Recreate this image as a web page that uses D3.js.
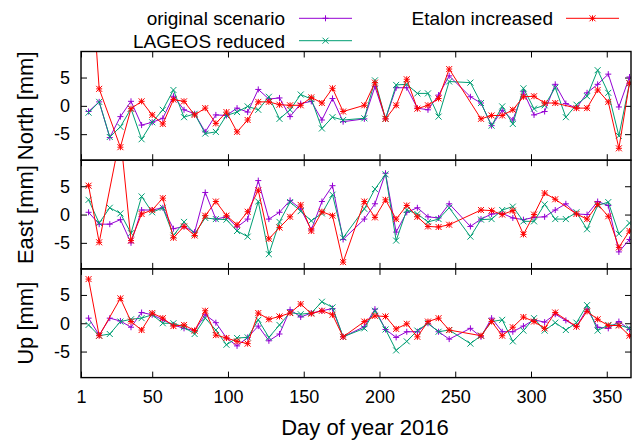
<!DOCTYPE html>
<html>
<head>
<meta charset="utf-8">
<script src="https://cdn.jsdelivr.net/npm/d3@7"></script>
<style>
body { margin: 0; background: #fff; }
text { font-family: "Liberation Sans", Arial, sans-serif; fill: #000; }
</style>
</head>
<body>
<svg id="chart" width="633" height="440"></svg>
<script>
// weekly solutions, day of year 2016
let days = [8, 15, 22, 29, 36, 43, 50, 57, 64, 71, 78, 85, 92, 99, 106, 113, 120, 127, 134, 141,
    148, 155, 162, 169, 176, 183, 190, 197, 204, 211, 218, 225, 232, 239, 246, 253, 260, 267, 274, 281,
    288, 295, 302, 309, 316, 323, 330, 337, 344, 351, 358, 365];

let seriesNames = ["original scenario", "LAGEOS reduced", "Etalon increased"];
let seriesColours = ["#9400d3", "#009e73", "#ff0000"];
let seriesMarkers = ["plus", "cross", "star"];

let panelTitles = ["North [mm]", "East [mm]", "Up [mm]"];
let xTicks = [3, 50, 100, 150, 200, 250, 300, 350];
let xTickLabels = ["1", "50", "100", "150", "200", "250", "300", "350"];
let yTicks = [-5, 0, 5];

// null = no solution that week
let northOrig = [-1.0, 0.7, -5.6, -1.9, 0.8, -3.4, -2.9, -2.2, 1.7, -0.7, -1.4, -4.6, -1.6, -1.7, -0.4, -1.1, 2.9, 1.2, 1.4, -1.9,
    0.4, 0.8, -2.5, 1.3, -2.8, null, -2.3, 3.4, -2.3, 3.2, 3.2, -0.4, -0.7, 1.9, 5.3, null, 1.6, 0.5, -3.5, -0.8,
    -2.5, 2.5, -1.6, -1.0, 3.8, 0.4, -0.4, 2.3, 3.8, 5.6, -0.2, 5.1];
let northLageos = [-1.2, 0.7, -5.5, -3.7, -0.5, -5.9, -2.9, -0.7, 2.8, -2.0, -1.4, -4.9, -4.6, -1.7, -1.1, -0.1, -0.7, 1.6, -2.3, -0.7,
    2.0, 1.2, -4.0, -2.0, -2.5, null, -2.2, 4.5, -2.3, 3.7, 3.8, 2.2, 2.2, -1.9, 4.3, null, 4.1, 0.5, -3.5, -0.1,
    -3.2, 3.1, -0.5, 0.1, 3.2, -2.0, 0.2, 1.7, 6.3, 2.3, -5.3, 4.0];
let northEtalon = [30, 3.0, null, -7.3, -0.5, 0.8, -1.6, -3.2, 1.1, 0.8, -1.6, -0.4, -3.1, -1.1, -4.6, -2.5, 0.7, 0.7, 0.2, 0.1,
    0.1, 1.5, 0.5, 3.1, -1.0, null, 0.1, 4.1, -2.3, 0.1, 4.7, -0.5, 0.1, 1.3, 6.5, null, null, -2.3, -1.7, -1.7,
    -0.7, 1.6, 1.7, 0.5, 0.5, null, -0.4, -0.4, 2.8, 0.7, -7.5, 4.0];

let eastOrig = [0.4, -1.7, -1.7, -0.9, -5.0, 0.8, 0.8, 1.2, -2.5, -2.1, -3.1, 3.9, -0.8, -0.4, -2.2, -0.8, 6.0, -0.8, 0.4, 2.5,
    1.0, -2.7, 2.3, 5.1, -4.4, null, -0.8, 1.9, 7.3, -3.1, 0.4, 1.2, -0.4, -0.6, 1.9, null, -2.1, -0.8, 0.1, 0.2,
    -0.6, -0.9, -0.5, -0.4, 0.8, 1.9, 0.1, 0.0, 2.3, 1.6, -6.6, -4.4];
let eastLageos = [2.6, -1.5, 1.2, 0.2, -3.3, 3.2, 0.4, 1.2, -3.7, -1.3, -3.4, -0.6, -0.8, -0.9, -2.9, -3.9, 2.3, -7.0, -1.3, 2.2,
    0.6, -1.1, 0.2, 3.5, -4.1, null, 1.0, 4.5, 7.1, -4.6, 0.8, 0.1, -1.3, -0.8, 1.2, null, -3.9, -0.9, -0.8, 0.8,
    1.4, -1.2, -1.2, 1.8, -0.8, -0.8, 0.4, -2.6, 1.6, 2.2, -3.4, -1.5];
let eastEtalon = [5.1, -4.9, null, 14, -4.6, 0.1, 0.8, 2.9, -4.1, -2.1, -3.7, -0.2, 2.3, -0.2, -1.8, 0.5, 4.3, -4.3, -2.3, -0.4,
    1.7, -2.9, 0.5, -0.2, -8.4, null, 2.3, -0.5, 2.6, -0.8, 1.6, -0.4, -2.1, -2.2, -1.8, null, null, 0.8, 0.7, 0.0,
    0.7, -3.5, 0.0, 3.8, 2.7, null, 0.1, -0.8, 1.8, -0.3, -5.8, -2.9];

let upOrig = [0.9, -2.1, 0.9, 0.4, -0.7, 1.9, 1.5, 0.6, -0.3, -0.9, -1.3, 1.5, 0.1, -2.6, -4.0, -2.5, -0.5, -3.1, -1.9, 2.4,
    1.1, 1.8, 2.2, 2.6, -2.4, null, -0.6, 2.5, -1.1, -2.5, -1.5, -1.5, 0.0, -1.5, -2.8, null, -0.9, -2.4, 0.9, -1.5,
    -1.5, -0.5, 0.6, 0.2, 1.6, 0.5, -0.6, 2.5, -0.7, -0.9, 0.3, -1.1];
let upLageos = [-0.3, -2.2, -1.9, 0.3, 0.7, 0.9, 1.5, 0.0, 0.0, -0.7, -1.9, 0.9, -1.2, -3.8, -2.6, -2.5, 0.6, -2.5, -0.3, 1.9,
    1.6, 1.8, 3.8, 2.8, -2.4, null, -0.9, 2.2, -1.1, -4.8, -3.2, -1.3, 0.0, -1.5, -1.2, null, -3.6, -2.2, 0.3, 0.6,
    -3.2, -1.3, 0.9, -1.3, 0.1, -1.2, 0.1, 3.2, -1.3, -0.3, -0.3, -0.9];
let upEtalon = [7.8, -2.2, null, 4.4, 0.3, -1.2, 1.8, 0.9, -0.5, -0.3, -1.3, 2.2, -2.1, -2.6, -3.2, -3.6, 1.8, 0.7, 1.2, 1.8,
    3.4, 1.7, 2.2, 1.5, -2.4, null, 0.3, 1.3, 1.2, -1.0, -0.1, -2.4, 0.3, 0.9, -1.2, null, null, -2.2, 0.3, -2.2,
    -0.7, 1.1, 0.3, -0.9, 1.9, null, -0.6, 2.1, 0.7, -0.4, -0.4, -2.2];

let panelData = [
    [northOrig, northLageos, northEtalon],
    [eastOrig, eastLageos, eastEtalon],
    [upOrig, upLageos, upEtalon]
];

let plotLeft = 81;
let plotRight = 631;
let panelTop = 51.5;
let panelHeight = 108.7;
let tickLen = 6;
let markSize = 3; // half width of the point symbols

let svg = d3.select("#chart");

let x = d3.scaleLinear().domain([3, 366]).range([plotLeft, plotRight]);

/**
 * Draw a gnuplot style point symbol
 */
function drawMarker(g, type, cx, cy, colour) {
    let s = markSize;
    let segs = [];
    if (type === "plus" || type === "star") {
        segs.push([cx - s, cy, cx + s, cy], [cx, cy - s, cx, cy + s]);
    }
    if (type === "cross" || type === "star") {
        segs.push([cx - s, cy - s, cx + s, cy + s], [cx - s, cy + s, cx + s, cy - s]);
    }
    segs.forEach(function (p) {
        g.append("line")
            .attr("x1", p[0]).attr("y1", p[1])
            .attr("x2", p[2]).attr("y2", p[3])
            .style("stroke", colour)
            .style("stroke-width", 1);
    });
}

for (let p = 0; p < panelData.length; p++) {
    let top = panelTop + p * panelHeight;
    let bottom = top + panelHeight;
    let y = d3.scaleLinear().domain([-9.6, 9.6]).range([bottom, top]);
    let isLast = p === panelData.length - 1;

    svg.append("clipPath").attr("id", "clip" + p)
        .append("rect")
        .attr("x", plotLeft).attr("y", top)
        .attr("width", plotRight - plotLeft).attr("height", panelHeight);

    // axes with inward ticks, mirrored on every side
    let yLeft = svg.append("g")
        .attr("transform", "translate(" + plotLeft + ",0)")
        .call(d3.axisLeft(y).tickValues(yTicks).tickSize(-tickLen).tickPadding(11)
            .tickFormat(function (d) { return String(d); }));
    let yRight = svg.append("g")
        .attr("transform", "translate(" + plotRight + ",0)")
        .call(d3.axisRight(y).tickValues(yTicks).tickSize(-tickLen).tickFormat(""));
    let xTop = svg.append("g")
        .attr("transform", "translate(0," + top + ")")
        .call(d3.axisTop(x).tickValues(xTicks).tickSize(-tickLen).tickFormat(""));
    let xBottom = svg.append("g")
        .attr("transform", "translate(0," + bottom + ")")
        .call(d3.axisBottom(x).tickValues(xTicks).tickSize(-tickLen).tickPadding(13)
            .tickFormat(function (d, i) { return isLast ? xTickLabels[i] : ""; }));

    [yLeft, yRight, xTop, xBottom].forEach(function (a) {
        a.select(".domain").remove();
        a.selectAll(".tick line").style("stroke", "#000").style("stroke-width", 1);
        a.selectAll("text").style("font-size", "18px").style("font-family", "Liberation Sans, Arial, sans-serif");
    });

    svg.append("text")
        .attr("transform", "translate(33," + (top + panelHeight / 2) + ") rotate(-90)")
        .attr("text-anchor", "middle")
        .style("font-size", "22px")
        .text(panelTitles[p]);

    let plotG = svg.append("g").attr("clip-path", "url(#clip" + p + ")");
    let line = d3.line()
        .x(function (d) { return x(d[0]); })
        .y(function (d) { return y(d[1]); });

    for (let s = 0; s < panelData[p].length; s++) {
        let pts = [];
        for (let i = 0; i < days.length; i++) {
            if (panelData[p][s][i] !== null) { pts.push([days[i], panelData[p][s][i]]); }
        }
        plotG.append("path")
            .attr("d", line(pts))
            .style("fill", "none")
            .style("stroke", seriesColours[s])
            .style("stroke-width", 1);
        pts.forEach(function (d) {
            drawMarker(plotG, seriesMarkers[s], x(d[0]), y(d[1]), seriesColours[s]);
        });
    }

    svg.append("rect")
        .attr("x", plotLeft).attr("y", top)
        .attr("width", plotRight - plotLeft).attr("height", panelHeight)
        .style("fill", "none")
        .style("stroke", "#000")
        .style("stroke-width", 1.4);
}

svg.append("text")
    .attr("x", 365).attr("y", 435)
    .attr("text-anchor", "middle")
    .style("font-size", "22px")
    .text("Day of year 2016");

// key: two columns
let keyPos = [
    { textX: 285, lineX1: 299, lineX2: 352, y: 18.3 },
    { textX: 285, lineX1: 299, lineX2: 352, y: 40.7 },
    { textX: 553, lineX1: 566, lineX2: 619, y: 18.3 }
];
for (let s = 0; s < seriesNames.length; s++) {
    let k = keyPos[s];
    svg.append("text")
        .attr("x", k.textX).attr("y", k.y + 6.8)
        .attr("text-anchor", "end")
        .style("font-size", "19px")
        .text(seriesNames[s]);
    svg.append("line")
        .attr("x1", k.lineX1).attr("y1", k.y)
        .attr("x2", k.lineX2).attr("y2", k.y)
        .style("stroke", seriesColours[s])
        .style("stroke-width", 1);
    drawMarker(svg, seriesMarkers[s], (k.lineX1 + k.lineX2) / 2, k.y, seriesColours[s]);
}
</script>
</body>
</html>
